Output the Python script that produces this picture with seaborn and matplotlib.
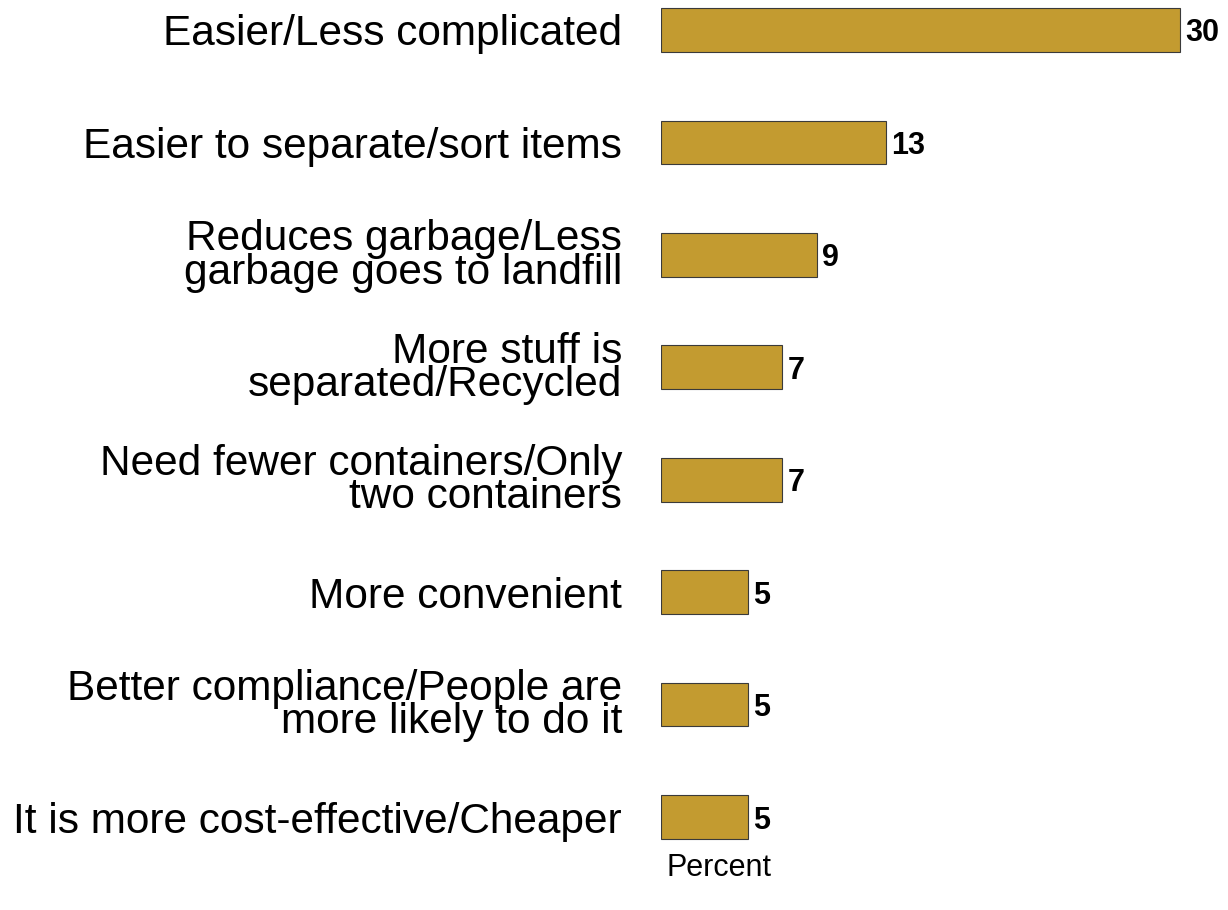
import matplotlib
matplotlib.use("Agg")
import matplotlib.pyplot as plt
import seaborn as sns
import pandas as pd

categories = [
    "Easier/Less complicated",
    "Easier to separate/sort items",
    "Reduces garbage/Less\ngarbage goes to landfill",
    "More stuff is\nseparated/Recycled",
    "Need fewer containers/Only\ntwo containers",
    "More convenient",
    "Better compliance/People are\nmore likely to do it",
    "It is more cost-effective/Cheaper",
]
percent = [30, 13, 9, 7, 7, 5, 5, 5]

df = pd.DataFrame({"reason": categories, "percent": percent})

sns.set_style("white")
plt.rcParams["font.family"] = ["Liberation Sans", "DejaVu Sans"]
plt.rcParams["text.color"] = "black"
plt.rcParams["ytick.color"] = "black"

fig = plt.figure(figsize=(12.28, 9.10), dpi=100)
ax = fig.add_axes([661 / 1228, 0, 1 - 661 / 1228, 1])

sns.barplot(data=df, x="percent", y="reason", orient="h", color="#C39B30",
            saturation=1, width=0.39, edgecolor="#3a3a3a", linewidth=0.8, ax=ax)

ax.set_xlim(0, 32.77)
ax.set_ylim(7 + 93 / 112.43, -30 / 112.43)
sns.despine(ax=ax, left=True, bottom=True)
ax.set_xticks([])
ax.set_xlabel("")
ax.set_ylabel("")
ax.tick_params(axis="y", length=0, pad=28, labelcolor="black")
for lab in ax.get_yticklabels():
    lab.set_fontsize(30.5)
    lab.set_linespacing(0.78)

for i, v in enumerate(percent):
    ax.text(v + 0.3, i, str(v), va="center_baseline", ha="left", fontsize=22,
            fontweight="bold", color="black",
            family=["Liberation Sans Narrow", "Liberation Sans"])

ax.text(3.35, 7 + 51 / 112.43, "Percent", ha="center", va="center",
        fontsize=22, color="black")

fig.savefig("out.png", dpi=100)
